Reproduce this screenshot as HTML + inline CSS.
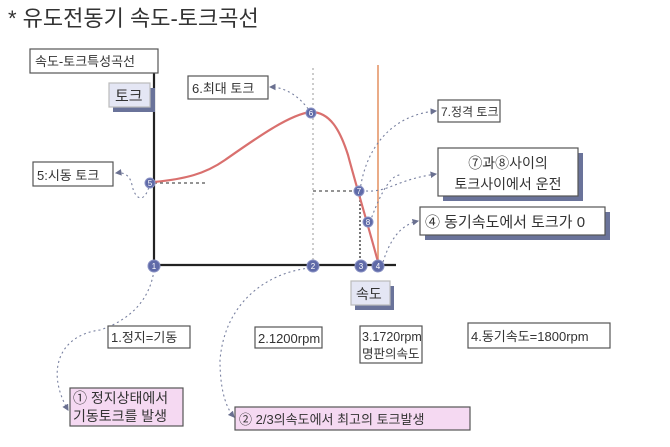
<!DOCTYPE html>
<html><head><meta charset="utf-8"><style>
html,body{margin:0;padding:0;background:#fff;}
svg text{font-family:"Liberation Sans","Noto Sans CJK KR",sans-serif;fill:#333;}
</style></head><body>
<svg width="670" height="442" viewBox="0 0 670 442" xmlns="http://www.w3.org/2000/svg">
<defs>
<marker id="ar" markerWidth="6" markerHeight="6" refX="5" refY="3" orient="auto"><path d="M0,0 L6,3 L0,6z" fill="#6a7090"/></marker>
</defs>
<text x="8" y="26" font-size="22" fill="#333">* 유도전동기 속도-토크곡선</text>

<line x1="313" y1="68" x2="313" y2="264" stroke="#aaa" stroke-width="1.2" stroke-dasharray="2,3"/>
<line x1="154" y1="183" x2="206" y2="183" stroke="#555" stroke-width="1.2" stroke-dasharray="3,3"/>
<line x1="313" y1="191" x2="359" y2="191" stroke="#555" stroke-width="1.2" stroke-dasharray="3,3"/>
<line x1="360" y1="192" x2="360" y2="264" stroke="#555" stroke-width="1.6" stroke-dasharray="2,2"/>
<line x1="378" y1="65" x2="378" y2="262" stroke="#e8a27a" stroke-width="1.8"/>

<line x1="154" y1="73" x2="154" y2="266" stroke="#222" stroke-width="2.2"/>
<line x1="154" y1="265" x2="396" y2="265" stroke="#222" stroke-width="2.2"/>

<path d="M154,182 C185,179 205,174 225,160 C255,139 290,114 311,112 C330,112 340,130 348,155 C356,185 368,225 378,262" fill="none" stroke="#d9706e" stroke-width="2.2"/>

<g fill="none" stroke="#7880a0" stroke-width="1.1" stroke-dasharray="2,3">
<path d="M311,113 C300,96 285,87 270,87" marker-end="url(#ar)"/>
<path d="M150,183 C145,205 135,200 132,185 C130,175 124,172 116,173" marker-end="url(#ar)"/>
<path d="M360,191 C365,150 390,115 436,111" marker-end="url(#ar)"/>
<path d="M366,191 C390,192 395,180 436,174" marker-end="url(#ar)"/>
<path d="M370,222 C385,180 395,175 400,175"/>
<path d="M383,262 C390,240 400,225 418,221" marker-end="url(#ar)"/>
<path d="M154,270 C150,300 130,320 100,330 C60,335 45,370 68,410" marker-end="url(#ar)"/>
<path d="M310,268 C270,272 225,300 220,360 C220,395 228,410 234,417" marker-end="url(#ar)"/>
</g>

<g stroke="#555" stroke-width="1.2">
<rect x="30" y="49" width="128" height="24" fill="#fff"/>
<rect x="113" y="88" width="42" height="24" fill="#6a739a" stroke="none"/>
<rect x="109" y="83" width="41" height="24" fill="#e4e6f4" stroke="#bbb"/>
<rect x="188" y="76" width="80" height="23" fill="#fff"/>
<rect x="33" y="162" width="80" height="24" fill="#fff"/>
<rect x="438" y="100" width="62" height="22" fill="#fff"/>
<rect x="443" y="153" width="140" height="48" fill="#6a739a" stroke="none"/>
<rect x="438" y="148" width="140" height="48" fill="#fff"/>
<rect x="425" y="212" width="185" height="28" fill="#6a739a" stroke="none"/>
<rect x="420" y="207" width="185" height="28" fill="#fff"/>
<rect x="355" y="286" width="39" height="24" fill="#6a739a" stroke="none"/>
<rect x="351" y="281" width="39" height="24" fill="#e4e6f4" stroke="#bbb"/>
<rect x="108" y="326" width="82" height="22" fill="#fff"/>
<rect x="255" y="327" width="67" height="21" fill="#fff"/>
<rect x="360" y="326" width="62" height="37" fill="#fff"/>
<rect x="468" y="323" width="142" height="25" fill="#fff"/>
<rect x="70" y="388" width="113" height="38" fill="#f5d9f2"/>
<rect x="235" y="407" width="235" height="23" fill="#f5d9f2"/>
</g>

<g font-size="13">
<text x="35" y="66">속도-토크특성곡선</text>
<text x="115" y="101" font-size="15">토크</text>
<text x="192" y="93">6.최대 토크</text>
<text x="37" y="180">5:시동 토크</text>
<text x="441" y="116" font-size="12">7.정격 토크</text>
<text x="508" y="168" text-anchor="middle" font-size="14">⑦과⑧사이의</text>
<text x="508" y="189" text-anchor="middle" font-size="14">토크사이에서 운전</text>
<text x="425" y="227" font-size="15">④ 동기속도에서 토크가 0</text>
<text x="356" y="299" font-size="14">속도</text>
<text x="111" y="342">1.정지=기동</text>
<text x="258" y="343">2.1200rpm</text>
<text x="362" y="341" font-size="12.5">3.1720rpm</text>
<text x="362" y="358" font-size="12.5">명판의속도</text>
<text x="471" y="341">4.동기속도=1800rpm</text>
<text x="73" y="403" font-size="14">① 정지상태에서</text>
<text x="73" y="421" font-size="14">기동토크를 발생</text>
<text x="239" y="424" font-size="13">② 2/3의속도에서 최고의 토크발생</text>
</g>

<g fill="#5f6aa8" stroke="#8a92c4" stroke-width="1">
<circle cx="154" cy="266" r="6"/><circle cx="313" cy="266" r="6"/>
<circle cx="361" cy="266" r="6"/><circle cx="378" cy="266" r="6"/>
<circle cx="150" cy="183" r="5"/><circle cx="311" cy="113" r="5"/>
<circle cx="359" cy="191" r="5"/><circle cx="368" cy="222" r="5"/>
</g>
<g font-size="8" text-anchor="middle">
<text x="154" y="269" style="fill:#fff">1</text><text x="313" y="269" style="fill:#fff">2</text>
<text x="361" y="269" style="fill:#fff">3</text><text x="378" y="269" style="fill:#fff">4</text>
<text x="150" y="186" style="fill:#fff">5</text><text x="311" y="116" style="fill:#fff">6</text>
<text x="359" y="194" style="fill:#fff">7</text><text x="368" y="225" style="fill:#fff">8</text>
</g>
</svg>
</body></html>
